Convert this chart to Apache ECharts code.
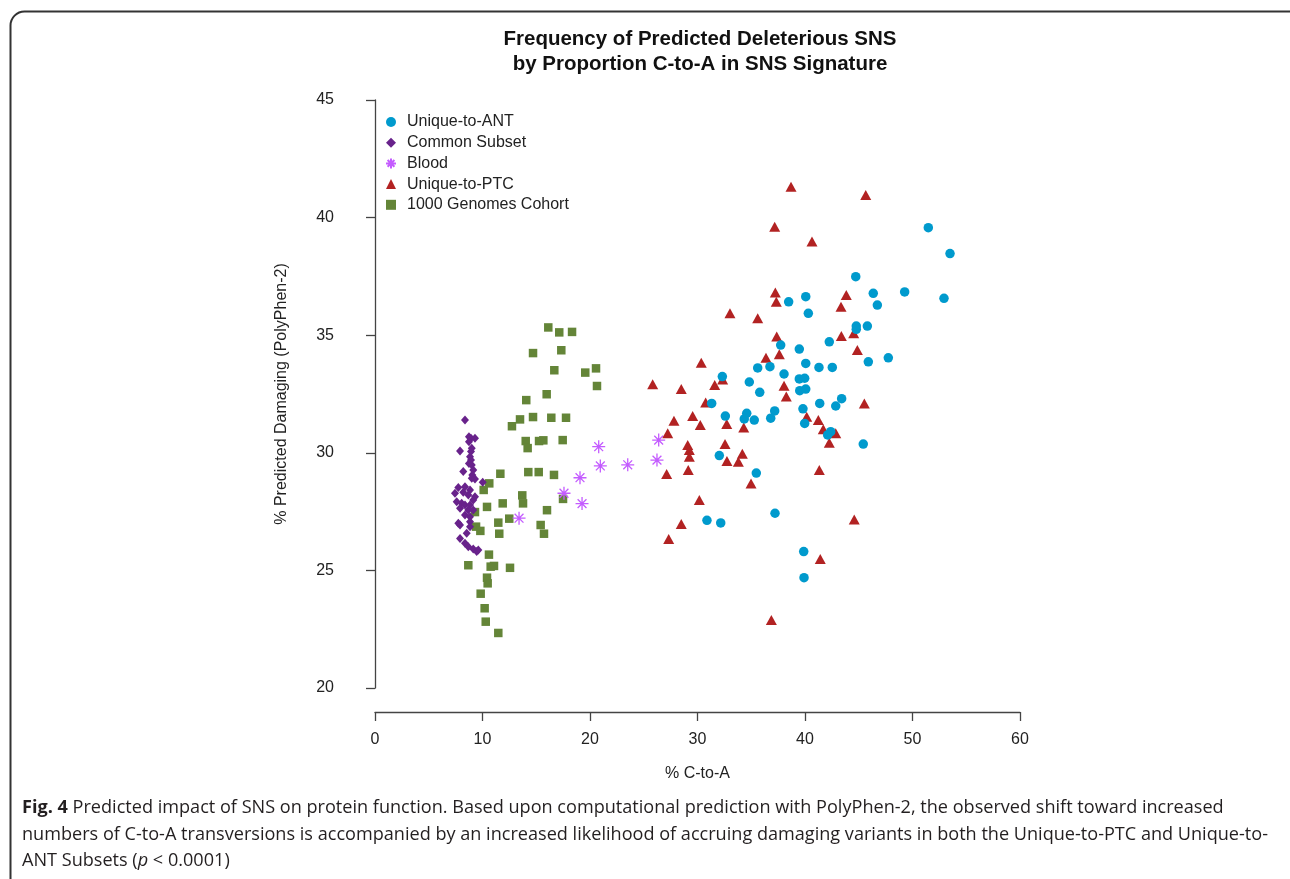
<!DOCTYPE html>
<html>
<head>
<meta charset="utf-8">
<script src="https://cdn.jsdelivr.net/npm/echarts@6/dist/echarts.min.js"></script>
<style>
html,body{margin:0;padding:0;background:#fff;}
#chart{width:1290px;height:879px;}
</style>
</head>
<body>
<div id="chart"></div>
<script>
const seriesNames = ['Unique-to-ANT','Common Subset','Blood','Unique-to-PTC','1000 Genomes Cohort'];
const xTicks = [0,10,20,30,40,50,60];
const yTicks = [20,25,30,35,40,45];

const antPoints = [
 [44.72,37.49],[46.35,36.78],[46.73,36.28],[38.48,36.42],[40.07,36.64],[40.31,35.93],
 [44.77,35.39],[44.77,35.25],[45.80,35.39],[42.26,34.72],[37.74,34.58],[39.47,34.41],
 [40.07,33.80],[41.30,33.63],[42.54,33.63],[45.89,33.87],[47.75,34.04],[35.60,33.61],
 [36.74,33.66],[38.05,33.35],[32.31,33.24],[34.82,33.01],[39.47,33.14],[39.97,33.17],
 [35.79,32.57],[39.51,32.64],[40.07,32.71],[31.32,32.10],[41.37,32.10],[43.41,32.30],
 [42.86,31.99],[32.59,31.56],[34.58,31.68],[34.35,31.44],[35.28,31.39],[37.18,31.78],
 [36.81,31.47],[39.81,31.87],[39.97,31.25],[42.11,30.76],[42.39,30.90],[45.42,30.37],
 [32.03,29.88],[35.47,29.14],[37.21,27.43],[30.88,27.13],[32.16,27.02],[39.88,25.80],
 [39.91,24.69],[51.47,39.57],[53.49,38.47],[52.93,36.57],[49.27,36.84]
];
const commonPoints = [
 [8.37,31.39],[8.74,30.68],[8.93,30.62],[9.30,30.62],[8.74,30.47],[9.0,30.19],[8.93,30.05],
 [7.91,30.08],[8.84,29.83],[8.93,29.69],[8.74,29.55],[9.0,29.48],[8.21,29.20],[9.14,29.27],
 [9.05,29.06],[9.0,28.92],[9.30,28.89],[10.02,28.75],[7.75,28.52],[8.37,28.56],[8.84,28.42],
 [8.21,28.32],[7.44,28.28],[8.68,28.21],[9.30,28.13],[9.14,27.99],[7.6,27.92],[8.06,27.85],
 [8.37,27.78],[8.84,27.78],[7.91,27.64],[8.68,27.57],[9.14,27.57],[8.37,27.36],[8.84,27.28],
 [7.75,27.0],[7.91,26.93],[8.84,27.07],[8.84,26.86],[8.53,26.58],[7.91,26.36],[8.37,26.15],
 [8.68,26.01],[9.14,25.91],[9.46,25.80],[9.61,25.87]
];
const bloodPoints = [
 [13.40,27.22],[17.58,28.28],[19.26,27.84],[19.07,28.94],[20.96,29.44],[20.81,30.26],
 [23.51,29.49],[26.23,29.69],[26.39,30.54]
];
const ptcPoints = [
 [38.70,41.31],[45.65,40.96],[37.18,39.61],[40.65,38.98],[37.24,36.82],[37.33,36.42],
 [43.84,36.71],[43.35,36.21],[33.02,35.93],[35.60,35.72],[37.37,34.94],[43.38,34.97],
 [44.53,35.08],[44.87,34.37],[30.35,33.83],[36.37,34.04],[37.61,34.19],[25.83,32.91],
 [28.49,32.71],[31.60,32.88],[32.34,33.12],[38.05,32.85],[38.26,32.39],[45.52,32.10],
 [30.76,32.14],[27.81,31.36],[29.55,31.56],[30.26,31.18],[32.72,31.22],[34.30,31.08],
 [40.16,31.53],[41.24,31.39],[41.70,31.00],[42.86,30.83],[42.26,30.43],[27.23,30.83],
 [29.09,30.33],[29.24,30.12],[29.24,29.83],[32.56,30.37],[34.17,29.96],[32.74,29.65],
 [33.80,29.62],[29.14,29.27],[27.13,29.10],[34.98,28.70],[41.33,29.27],[30.17,27.99],
 [28.49,26.97],[27.32,26.34],[44.58,27.16],[41.42,25.48],[36.87,22.89]
];
const genomesPoints = [
 [16.12,35.33],[17.14,35.12],[18.33,35.14],[14.70,34.24],[17.33,34.36],[16.68,33.51],
 [19.56,33.41],[20.56,33.59],[20.65,32.84],[14.07,32.24],[15.97,32.49],[13.49,31.42],
 [14.70,31.52],[16.40,31.49],[17.77,31.49],[12.74,31.13],[14.02,30.50],[14.20,30.20],
 [15.26,30.50],[15.66,30.53],[17.46,30.54],[11.66,29.11],[14.26,29.18],[15.23,29.18],
 [16.65,29.06],[10.63,28.70],[10.11,28.42],[13.70,28.19],[13.77,27.85],[17.49,28.04],
 [11.88,27.85],[10.42,27.70],[16.00,27.56],[9.30,27.48],[9.40,26.86],[9.80,26.68],
 [12.49,27.20],[11.47,27.03],[11.56,26.56],[15.41,26.93],[15.72,26.56],[10.60,25.67],
 [8.68,25.22],[10.76,25.16],[11.07,25.19],[12.56,25.11],[10.42,24.69],[10.48,24.45],
 [9.83,24.01],[10.20,23.39],[10.30,22.82],[11.47,22.34]
];

const ASTERISK = 'path://M5,0L5,10M0,5L10,5M1.6,1.6L8.4,8.4M1.6,8.4L8.4,1.6';
const FONT = '"Liberation Sans", Arial, sans-serif';
const CAP_FONT = '"Open Sans", sans-serif';
const CAP_SIZE = 18.1;

const chart = echarts.init(document.getElementById('chart'), null, {renderer:'canvas'});
chart.setOption({
  backgroundColor:'#ffffff',
  animation:false,
  title:{
    text:'Frequency of Predicted Deleterious SNS\nby Proportion C-to-A in SNS Signature',
    left:695, top:22, textAlign:'center',
    textStyle:{fontFamily:FONT, fontSize:20.5, fontWeight:'bold', color:'#111', lineHeight:25}
  },
  legend:{
    orient:'vertical', left:380, top:109,
    itemWidth:10, itemHeight:10, itemGap:4.7,
    textStyle:{fontFamily:FONT, fontSize:16, color:'#222', lineHeight:16, padding:[0,0,0,6]},
    data:seriesNames
  },
  grid:{left:375, right:270, top:100, bottom:191},
  xAxis:{
    type:'value', min:0, max:60, interval:10, offset:24,
    name:'% C-to-A', nameLocation:'middle', nameGap:54,
    nameTextStyle:{fontFamily:FONT, fontSize:16, color:'#222'},
    axisLine:{show:true, lineStyle:{color:'#444', width:1.3}},
    axisTick:{show:true, length:9, lineStyle:{color:'#444', width:1.3}},
    axisLabel:{fontFamily:FONT, fontSize:16, color:'#222', margin:20,
      formatter:v=>xTicks.includes(v)?String(v):''},
    splitLine:{show:false}
  },
  yAxis:{
    type:'value', min:20, max:45, interval:5, offset:25,
    name:'% Predicted Damaging (PolyPhen-2)', nameLocation:'middle', nameGap:60,
    nameTextStyle:{fontFamily:FONT, fontSize:16, color:'#222'},
    axisLine:{show:true, lineStyle:{color:'#444', width:1.3}},
    axisTick:{show:true, length:9, lineStyle:{color:'#444', width:1.3}},
    axisLabel:{fontFamily:FONT, fontSize:16, color:'#222', margin:16,
      formatter:v=>yTicks.includes(v)?String(v):''},
    splitLine:{show:false}
  },
  series:[
    {name:'1000 Genomes Cohort', type:'scatter', data:genomesPoints, symbol:'rect', symbolSize:8.5,
      itemStyle:{color:'#648538', opacity:1}, z:2},
    {name:'Common Subset', type:'scatter', data:commonPoints, symbol:'diamond', symbolSize:[8,9],
      itemStyle:{color:'#68228B', opacity:1}, z:3},
    {name:'Blood', type:'scatter', data:bloodPoints, symbol:ASTERISK, symbolSize:13,
      itemStyle:{color:'rgba(0,0,0,0)', borderColor:'#C45CFF', borderWidth:1.3, opacity:1}, z:4},
    {name:'Unique-to-PTC', type:'scatter', data:ptcPoints, symbol:'triangle', symbolSize:[11,10],
      itemStyle:{color:'#B22222', opacity:1}, z:5},
    {name:'Unique-to-ANT', type:'scatter', data:antPoints, symbol:'circle', symbolSize:9.5,
      itemStyle:{color:'#009ACD', opacity:1}, z:6}
  ],
  graphic:[
    {type:'rect', left:8, top:9, silent:true, z:-1,
      shape:{width:1310, height:900, r:14},
      style:{fill:'none', stroke:'#333', lineWidth:2}},
    {type:'text', left:22, top:799,
      style:{fontFamily:CAP_FONT, fontSize:CAP_SIZE, fill:'#231F20',
        rich:{b:{fontWeight:'bold', fontFamily:CAP_FONT, fontSize:CAP_SIZE, fill:'#231F20'}},
        text:'{b|Fig. 4} Predicted impact of SNS on protein function. Based upon computational prediction with PolyPhen-2, the observed shift toward increased'}},
    {type:'text', left:22, top:826,
      style:{fontFamily:CAP_FONT, fontSize:CAP_SIZE, fill:'#231F20',
        text:'numbers of C-to-A transversions is accompanied by an increased likelihood of accruing damaging variants in both the Unique-to-PTC and Unique-to-'}},
    {type:'text', left:22, top:852,
      style:{fontFamily:CAP_FONT, fontSize:CAP_SIZE, fill:'#231F20',
        rich:{i:{fontStyle:'italic', fontFamily:CAP_FONT, fontSize:CAP_SIZE, fill:'#231F20'}},
        text:'ANT Subsets ({i|p} < 0.0001)'}}
  ]
});
</script>
</body>
</html>
